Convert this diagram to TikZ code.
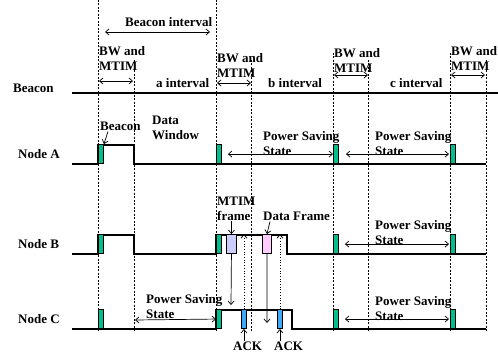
\documentclass[tikz,border=0pt]{standalone}
\usepackage{fontspec}
\setmainfont{Liberation Serif}[BoldFont={Liberation Serif Bold}]
\usetikzlibrary{arrows.meta, positioning, calc}

\definecolor{slotgreen}{HTML}{00BF8C}
\definecolor{mtimfill}{HTML}{CCCCFF}
\definecolor{datafill}{HTML}{FFCCFF}
\definecolor{ackfill}{HTML}{3FA9F5}

\tikzset{
  lbl/.style={font=\bfseries\fontsize{13}{15}\selectfont, inner sep=0pt, align=left, anchor=west},
  twolbl/.style={lbl, anchor=north west},
  sepline/.style={dash pattern=on 2pt off 1.5pt, line width=0.9pt},
  wave/.style={line width=1.2pt},
  slot/.style={draw, line width=0.9pt, inner sep=0pt, minimum width=5pt, minimum height=19pt, anchor=south west},
  arr/.style={-{Straight Barb[length=3.5pt,width=6pt]}, line width=0.7pt},
  darr/.style={{Straight Barb[length=3.5pt,width=6pt]}-{Straight Barb[length=3.5pt,width=6pt]}, line width=0.7pt},
  dotarr/.style={arr, dotted, line width=0.8pt}
}

\begin{document}
\begin{tikzpicture}[x=1pt,y=-1pt]
  \useasboundingbox (0,0) rectangle (498,355);
  \def\yA{164}
  \def\yB{254}
  \def\yC{329}
  \def\hi{19}
  \foreach \x/\t in {98/0,134/60,216/0,251/60,333/53,368/60,450/53,486/60}
    \draw[sepline] (\x,\t) -- (\x,331);
  \draw[wave] (72,93) -- (498,93);
  \draw[wave] (72,\yA) -- (98,\yA) -- (98,\yA-\hi) -- (134,\yA-\hi) -- (134,\yA) -- (486,\yA);
  \draw[wave] (72,\yB) -- (98,\yB) -- (98,\yB-\hi) -- (134,\yB-\hi) -- (134,\yB) -- (216,\yB)
    -- (216,\yB-\hi) -- (287,\yB-\hi) -- (287,\yB) -- (486,\yB);
  \draw[wave] (72,\yC) -- (216,\yC) -- (216,\yC-\hi) -- (292,\yC-\hi) -- (292,\yC) -- (486,\yC);
  \foreach \r/\y in {A/\yA,B/\yB,C/\yC}
    \foreach \x [count=\i] in {98,216,333,450}
      \node[slot, fill=slotgreen] (g\r\i) at (\x,\y) {};
  \node[slot, fill=mtimfill, minimum width=10pt] (mtim) at (226,\yB) {};
  \node[slot, fill=datafill, minimum width=9pt] (data) at (262,\yB) {};
  \node[slot, fill=ackfill] (ackA) at (241,\yC) {};
  \node[slot, fill=ackfill] (ackB) at (277,\yC) {};

  \node[lbl] (beaconrow) at (13,88) {Beacon};
  \node[lbl] (nodeA) at (18,154) {Node A};
  \node[lbl] (nodeB) at (18,244) {Node B};
  \node[lbl] (nodeC) at (18,319) {Node C};

  \node[lbl] (bint) at (125,22) {Beacon interval};
  \draw[darr] (105,32) -- (210,32);
  \node[twolbl] (bw1) at (99,46) {BW and\\MTIM};
  \node[twolbl] (bw2) at (217,53) {BW and\\MTIM};
  \node[twolbl] (bw3) at (334,48) {BW and\\MTIM};
  \node[twolbl] (bw4) at (451,46) {BW and\\MTIM};
  \foreach \x/\y in {98/81,216/83,333/75,450/75}
    \draw[darr] (\x+1,\y) -- (\x+35,\y);
  \node[lbl] (aint) at (156,83) {a interval};
  \node[lbl] (bintv) at (268,83) {b interval};
  \node[lbl] (cint) at (390,83) {c interval};

  \node[lbl] (bcn) at (100,126) {Beacon};
  \draw[arr] ($(bcn.south west)+(8,1)$) -- (gA1.north east);
  \node[twolbl] (dwin) at (152,116) {Data\\Window};
  \node[twolbl] (psA1) at (263,131) {Power Saving\\State};
  \node[twolbl] (psA2) at (375,131) {Power Saving\\State};
  \draw[darr] ($(gA2.east)+(6,0)$) -- (gA3.west);
  \draw[darr] ($(gA3.east)+(7,0)$) -- ($(gA4.west)+(-1,0)$);

  \node[twolbl] (mfr) at (217,197) {MTIM\\frame};
  \node[lbl] (dfr) at (263,216) {Data Frame};
  \draw[arr] (mtim.north |- mfr.south) -- (mtim.north);
  \draw[arr] ($(dfr.south west)+(7,1)$) -- (data.north);
  \node[twolbl] (psB) at (375,220) {Power Saving\\State};
  \draw[darr] ($(gB3.east)+(6,0)$) -- ($(gB4.west)+(-1,0)$);

  \coordinate (mtimC) at (231,305);
  \coordinate (dataC) at (267,323);
  \draw[arr] (mtim.south) -- (mtimC);
  \draw[arr] (data.south) -- (dataC);
  \draw[dotarr] (ackA.north) -- (ackA.north |- mtim.north);
  \draw[dotarr] (ackB.north) -- (ackB.north |- data.north);

  \node[twolbl] (psC1) at (146,294) {Power Saving\\State};
  \node[twolbl] (psC2) at (375,296) {Power Saving\\State};
  \draw[darr] (135,320) -- (gC2.west);
  \draw[darr] ($(gC3.east)+(6,0)$) -- ($(gC4.west)+(-1,0)$);

  \node[lbl] (ackl1) at (233,346) {ACK};
  \node[lbl] (ackl2) at (274,346) {ACK};
  \draw[arr] (ackA.south |- ackl1.north) -- (ackA.south);
  \draw[arr] (ackB.south |- ackl2.north) -- (ackB.south);
\end{tikzpicture}
\end{document}
